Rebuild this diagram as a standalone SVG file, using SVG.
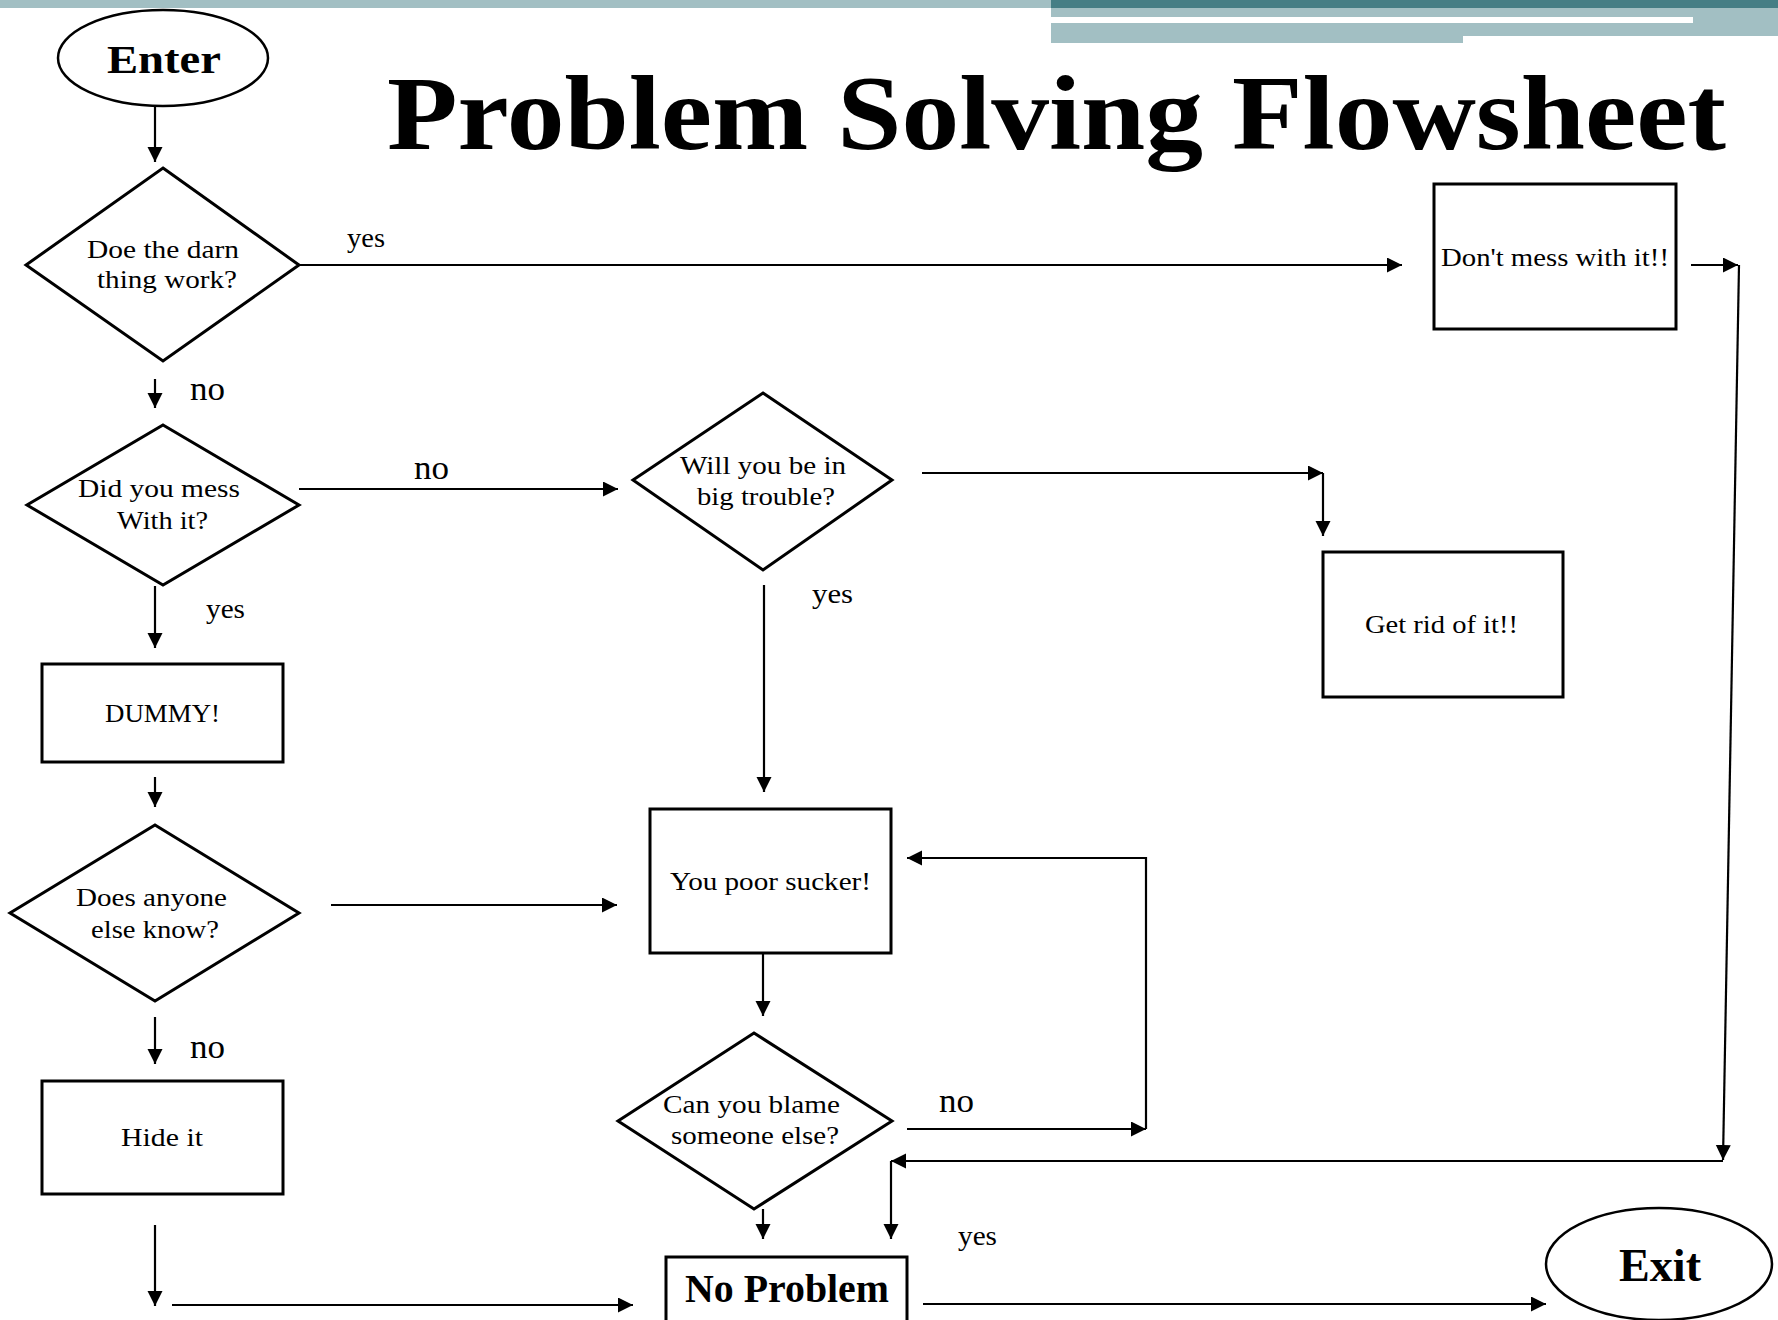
<svg xmlns="http://www.w3.org/2000/svg" width="1778" height="1320" viewBox="0 0 1778 1320">
<style>
.t{font-family:"Liberation Serif","Times New Roman",serif;font-size:26px;fill:#000}
.b{font-family:"Liberation Serif","Times New Roman",serif;font-weight:bold;fill:#000}
.no{font-family:"Liberation Serif","Times New Roman",serif;font-size:33px;fill:#000}
.yes{font-family:"Liberation Serif","Times New Roman",serif;font-size:28px;fill:#000}
.shape{fill:#fff;stroke:#000;stroke-width:3}
.ell{fill:#fff;stroke:#000;stroke-width:2.5}
.c{fill:none;stroke:#000;stroke-width:2.2}
</style>
<defs>
<marker id="ah" markerUnits="userSpaceOnUse" markerWidth="16" markerHeight="16" refX="15" refY="7.5" orient="auto">
<path d="M0,0 L15,7.5 L0,15 z" fill="#000"/>
</marker>
</defs>
<rect width="1778" height="1320" fill="#fff"/>
<g id="banner">
<rect x="0" y="0" width="1051" height="8" fill="#a2bfc3"/>
<rect x="1051" y="0" width="727" height="8" fill="#457e85"/>
<rect x="1051" y="8" width="727" height="28" fill="#a2bfc3"/>
<rect x="1051" y="36" width="412" height="7" fill="#a2bfc3"/>
<rect x="1051" y="17" width="642" height="6" fill="#fff"/>
</g>
<text id="title" class="b" x="387" y="149" font-size="106" textLength="1339" lengthAdjust="spacingAndGlyphs">Problem Solving Flowsheet</text>
<g id="connectors">
<line class="c" x1="155" y1="106" x2="155" y2="162" marker-end="url(#ah)"/>
<line class="c" x1="299" y1="265" x2="1402" y2="265" marker-end="url(#ah)"/>
<line class="c" x1="1691" y1="265" x2="1738" y2="265" marker-end="url(#ah)"/>
<line class="c" x1="1739" y1="265" x2="1723" y2="1160" marker-end="url(#ah)"/>
<line class="c" x1="1723" y1="1161" x2="891" y2="1161" marker-end="url(#ah)"/>
<line class="c" x1="891" y1="1161" x2="891" y2="1239" marker-end="url(#ah)"/>
<line class="c" x1="155" y1="379" x2="155" y2="408" marker-end="url(#ah)"/>
<line class="c" x1="299" y1="489" x2="618" y2="489" marker-end="url(#ah)"/>
<line class="c" x1="155" y1="586" x2="155" y2="648" marker-end="url(#ah)"/>
<line class="c" x1="155" y1="777" x2="155" y2="807" marker-end="url(#ah)"/>
<line class="c" x1="331" y1="905" x2="617" y2="905" marker-end="url(#ah)"/>
<line class="c" x1="155" y1="1017" x2="155" y2="1064" marker-end="url(#ah)"/>
<line class="c" x1="155" y1="1225" x2="155" y2="1306" marker-end="url(#ah)"/>
<line class="c" x1="172" y1="1305" x2="633" y2="1305" marker-end="url(#ah)"/>
<line class="c" x1="922" y1="473" x2="1323" y2="473" marker-end="url(#ah)"/>
<line class="c" x1="1323" y1="473" x2="1323" y2="536" marker-end="url(#ah)"/>
<line class="c" x1="764" y1="585" x2="764" y2="792" marker-end="url(#ah)"/>
<line class="c" x1="763" y1="953" x2="763" y2="1016" marker-end="url(#ah)"/>
<line class="c" x1="907" y1="1129" x2="1146" y2="1129" marker-end="url(#ah)"/>
<polyline class="c" points="1146,1129 1146,858 907,858" marker-end="url(#ah)"/>
<line class="c" x1="763" y1="1209" x2="763" y2="1239" marker-end="url(#ah)"/>
<line class="c" x1="923" y1="1304" x2="1546" y2="1304" marker-end="url(#ah)"/>
<text class="yes" x="347" y="247" textLength="38" lengthAdjust="spacingAndGlyphs">yes</text>
<text class="no" x="190" y="400" textLength="35" lengthAdjust="spacingAndGlyphs">no</text>
<text class="no" x="414" y="479" textLength="35" lengthAdjust="spacingAndGlyphs">no</text>
<text class="yes" x="206" y="618" textLength="39" lengthAdjust="spacingAndGlyphs">yes</text>
<text class="no" x="190" y="1058" textLength="35" lengthAdjust="spacingAndGlyphs">no</text>
<text class="yes" x="812" y="603" textLength="41" lengthAdjust="spacingAndGlyphs">yes</text>
<text class="no" x="939" y="1112" textLength="35" lengthAdjust="spacingAndGlyphs">no</text>
<text class="yes" x="958" y="1245" textLength="39" lengthAdjust="spacingAndGlyphs">yes</text>
</g>
<g id="enter">
<ellipse class="ell" cx="163" cy="58" rx="105" ry="48"/>
<text class="b" x="107" y="73" font-size="39" textLength="114" lengthAdjust="spacingAndGlyphs">Enter</text>
</g>
<g id="d1">
<polygon class="shape" points="163,168 299,265 163,361 26,265"/>
<text class="t" x="87" y="258" textLength="152" lengthAdjust="spacingAndGlyphs">Doe the darn</text>
<text class="t" x="97" y="288" textLength="140" lengthAdjust="spacingAndGlyphs">thing work?</text>
</g>
<g id="dontmess">
<rect class="shape" x="1434" y="184" width="242" height="145"/>
<text class="t" x="1441" y="266" textLength="228" lengthAdjust="spacingAndGlyphs">Don't mess with it!!</text>
</g>
<g id="d2">
<polygon class="shape" points="163,425 299,505 163,585 27,505"/>
<text class="t" x="78" y="497" textLength="162" lengthAdjust="spacingAndGlyphs">Did you mess</text>
<text class="t" x="117" y="529" textLength="91" lengthAdjust="spacingAndGlyphs">With it?</text>
</g>
<g id="dummy">
<rect class="shape" x="42" y="664" width="241" height="98"/>
<text class="t" x="105" y="722" textLength="115" lengthAdjust="spacingAndGlyphs">DUMMY!</text>
</g>
<g id="d4">
<polygon class="shape" points="155,825 299,913 155,1001 10,913"/>
<text class="t" x="76" y="906" textLength="151" lengthAdjust="spacingAndGlyphs">Does anyone</text>
<text class="t" x="91" y="938" textLength="128" lengthAdjust="spacingAndGlyphs">else know?</text>
</g>
<g id="hide">
<rect class="shape" x="42" y="1081" width="241" height="113"/>
<text class="t" x="121" y="1146" textLength="82" lengthAdjust="spacingAndGlyphs">Hide it</text>
</g>
<g id="d3">
<polygon class="shape" points="763,393 892,480 763,570 633,480"/>
<text class="t" x="680" y="474" textLength="166" lengthAdjust="spacingAndGlyphs">Will you be in</text>
<text class="t" x="697" y="505" textLength="138" lengthAdjust="spacingAndGlyphs">big trouble?</text>
</g>
<g id="getrid">
<rect class="shape" x="1323" y="552" width="240" height="145"/>
<text class="t" x="1365" y="633" textLength="153" lengthAdjust="spacingAndGlyphs">Get rid of it!!</text>
</g>
<g id="sucker">
<rect class="shape" x="650" y="809" width="241" height="144"/>
<text class="t" x="670" y="890" textLength="201" lengthAdjust="spacingAndGlyphs">You poor sucker!</text>
</g>
<g id="d5">
<polygon class="shape" points="754,1033 892,1121 754,1209 618,1121"/>
<text class="t" x="663" y="1113" textLength="177" lengthAdjust="spacingAndGlyphs">Can you blame</text>
<text class="t" x="671" y="1144" textLength="168" lengthAdjust="spacingAndGlyphs">someone else?</text>
</g>
<g id="noproblem">
<rect class="shape" x="666" y="1257" width="241" height="72"/>
<text class="b" x="685" y="1302" font-size="39" textLength="204" lengthAdjust="spacingAndGlyphs">No Problem</text>
</g>
<g id="exit">
<ellipse class="ell" cx="1659" cy="1264" rx="113" ry="56"/>
<text class="b" x="1619" y="1281" font-size="47" textLength="82" lengthAdjust="spacingAndGlyphs">Exit</text>
</g>
</svg>
